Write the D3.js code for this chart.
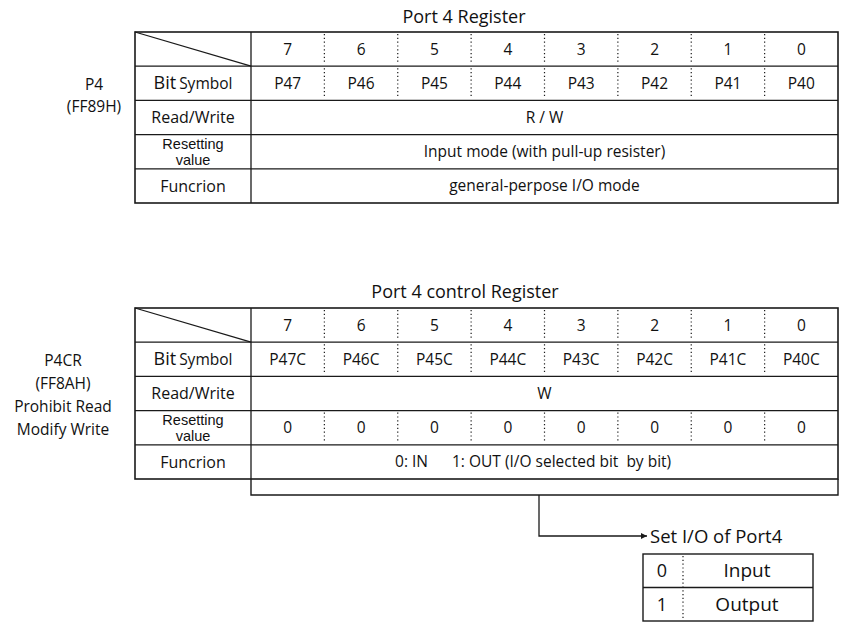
<!DOCTYPE html>
<html><head><meta charset="utf-8">
<script src="https://cdn.jsdelivr.net/npm/d3@7"></script>
<style>
body{margin:0;background:#fff;}
svg text{font-family:"Open Sans","Noto Sans",sans-serif;fill:#111;}
svg text.tight{font-family:"Liberation Sans",Arial,sans-serif;}
</style></head>
<body><svg id="c" width="841" height="630"></svg>
<script>
const bits = [7,6,5,4,3,2,1,0];
const p4Symbols = ["P47","P46","P45","P44","P43","P42","P41","P40"];
const p4crSymbols = ["P47C","P46C","P45C","P44C","P43C","P42C","P41C","P40C"];
const p4crReset = [0,0,0,0,0,0,0,0];
const rowLabels = ["", "Bit Symbol", "Read/Write", "Resetting value", "Funcrion"];
const legendRows = [{v:"0", t:"Input"},{v:"1", t:"Output"}];

const svg = d3.select("#c");
const ink = "#1a1a1a";
const FS = 15.5, LFS = 16;
const X0 = 135, XL = 251, X1 = 838;
const x = d3.scaleBand().domain(bits).range([XL, X1]);

function drawTable(cfg){
  const g = svg.append("g");
  const y = d3.scaleBand().domain(d3.range(5)).range([cfg.top, cfg.bottom]);
  const rh = y.bandwidth();
  g.append("text").attr("x", cfg.titleX).attr("y", cfg.titleY).attr("text-anchor","middle")
    .attr("font-size", 18).text(cfg.title);
  g.selectAll("line.row").data(d3.range(1,5)).join("line")
    .attr("x1", X0).attr("x2", X1).attr("y1", d=>y(d)).attr("y2", d=>y(d))
    .attr("stroke", ink).attr("stroke-width", 1.3);
  g.append("line").attr("x1", XL).attr("x2", XL).attr("y1", cfg.top).attr("y2", cfg.bottom)
    .attr("stroke", ink).attr("stroke-width", 1.3);
  g.append("line").attr("x1", X0).attr("y1", cfg.top).attr("x2", XL).attr("y2", y(1))
    .attr("stroke", ink).attr("stroke-width", 1.3);
  cfg.dottedRows.forEach(r=>{
    g.selectAll(null).data(bits.slice(1)).join("line")
      .attr("x1", d=>x(d)).attr("x2", d=>x(d)).attr("y1", y(r)+2).attr("y2", y(r)+rh-2)
      .attr("stroke", ink).attr("stroke-width", 1.2).attr("stroke-dasharray","1.2,2.6");
  });
  g.append("rect").attr("x", X0).attr("y", cfg.top).attr("width", X1-X0).attr("height", cfg.bottom-cfg.top)
    .attr("fill","none").attr("stroke", ink).attr("stroke-width", 1.6);
  const lx = (X0+XL)/2;
  const bs = g.append("text").attr("x", lx).attr("y", y(1)+rh/2).attr("dy","0.35em").attr("text-anchor","middle");
  bs.append("tspan").attr("font-size", 18).text("Bit");
  bs.append("tspan").attr("font-size", 15.5).attr("dx", 3).text("Symbol");
  g.append("text").attr("x", lx).attr("y", y(2)+rh/2).attr("dy","0.35em").attr("text-anchor","middle")
    .attr("font-size", LFS).text(rowLabels[2]);
  const rv = rowLabels[3].split(" ");
  const rt = g.append("text").attr("class","tight").attr("text-anchor","middle").attr("font-size", 14.5);
  rt.append("tspan").attr("x", lx).attr("y", y(3)+rh/2-3).text(rv[0]);
  rt.append("tspan").attr("x", lx).attr("y", y(3)+rh/2+13.3).text(rv[1]);
  g.append("text").attr("x", lx).attr("y", y(4)+rh/2).attr("dy","0.35em").attr("text-anchor","middle")
    .attr("font-size", LFS).text(rowLabels[4]);
  g.selectAll(null).data(bits).join("text")
    .attr("x", d=>x(d)+x.bandwidth()/2).attr("y", y(0)+rh/2).attr("dy","0.35em")
    .attr("text-anchor","middle").attr("font-size",FS).text(d=>d);
  g.selectAll(null).data(cfg.symbols).join("text")
    .attr("x", (d,i)=>x(bits[i])+x.bandwidth()/2).attr("y", y(1)+rh/2).attr("dy","0.35em")
    .attr("text-anchor","middle").attr("font-size",FS).text(d=>d);
  g.selectAll(null).data(cfg.side).join("text")
    .attr("x", cfg.sideX).attr("y",(d,i)=>cfg.sideY + i*cfg.sideStep).attr("dy","0.35em")
    .attr("text-anchor","middle").attr("font-size",FS).text(d=>d);
  return {g, y, rh};
}

const t1 = drawTable({title:"Port 4 Register", titleX:464, titleY:23, top:32, bottom:203,
  dottedRows:[0,1], symbols:p4Symbols, side:["P4","(FF89H)"], sideX:94, sideY:85, sideStep:22});
const mid = (XL+X1)/2;
t1.g.append("text").attr("x", mid).attr("y", t1.y(2)+t1.rh/2).attr("dy","0.35em").attr("text-anchor","middle").attr("font-size",FS).text("R / W");
t1.g.append("text").attr("x", mid).attr("y", t1.y(3)+t1.rh/2).attr("dy","0.35em").attr("text-anchor","middle").attr("font-size",FS).text("Input mode (with pull-up resister)");
t1.g.append("text").attr("x", mid).attr("y", t1.y(4)+t1.rh/2).attr("dy","0.35em").attr("text-anchor","middle").attr("font-size",FS).text("general-perpose I/O mode");

const t2 = drawTable({title:"Port 4 control Register", titleX:465, titleY:298, top:308, bottom:479,
  dottedRows:[0,1,3], symbols:p4crSymbols, side:["P4CR","(FF8AH)","Prohibit Read","Modify Write"], sideX:63, sideY:361, sideStep:22.8});
t2.g.append("text").attr("x", mid).attr("y", t2.y(2)+t2.rh/2).attr("dy","0.35em").attr("text-anchor","middle").attr("font-size",FS).text("W");
t2.g.selectAll(null).data(p4crReset).join("text")
  .attr("x",(d,i)=>x(bits[i])+x.bandwidth()/2).attr("y", t2.y(3)+t2.rh/2).attr("dy","0.35em")
  .attr("text-anchor","middle").attr("font-size",FS).text(d=>d);
t2.g.append("text").attr("x", 428).attr("y", t2.y(4)+t2.rh/2).attr("dy","0.35em").attr("text-anchor","end").attr("font-size",FS).text("0: IN");
t2.g.append("text").attr("x", 452).attr("y", t2.y(4)+t2.rh/2).attr("dy","0.35em").attr("text-anchor","start").attr("font-size",FS).style("white-space","pre").text("1: OUT (I/O selected bit  by bit)");

svg.append("path").attr("d", `M${XL},479 V495 H${X1} V479`).attr("fill","none").attr("stroke",ink).attr("stroke-width",1.4);

svg.append("defs").append("marker").attr("id","ah").attr("viewBox","0 0 10 10").attr("refX",10).attr("refY",5)
  .attr("markerWidth",9).attr("markerHeight",6).attr("orient","auto").attr("markerUnits","userSpaceOnUse")
  .append("path").attr("d","M0,0 L10,5 L0,10 Z").attr("fill",ink);
svg.append("path").attr("d","M539,495 V536 H647").attr("fill","none").attr("stroke",ink).attr("stroke-width",1.3).attr("marker-end","url(#ah)");
svg.append("text").attr("x",650).attr("y",537).attr("dy","0.35em").attr("font-size",18.5).text("Set I/O of Port4");

const lg = svg.append("g");
const ly = d3.scaleBand().domain(d3.range(legendRows.length)).range([554, 621]);
lg.append("rect").attr("x",643).attr("y",554).attr("width",170).attr("height",67).attr("fill","none").attr("stroke",ink).attr("stroke-width",1.4);
lg.append("line").attr("x1",643).attr("x2",813).attr("y1",ly(1)).attr("y2",ly(1)).attr("stroke",ink).attr("stroke-width",1.3);
lg.append("line").attr("x1",683).attr("x2",683).attr("y1",556).attr("y2",619).attr("stroke",ink).attr("stroke-width",1.2).attr("stroke-dasharray","1.2,2.6");
lg.selectAll(null).data(legendRows).join("text").attr("x",662).attr("y",(d,i)=>ly(i)+ly.bandwidth()/2).attr("dy","0.35em")
  .attr("text-anchor","middle").attr("font-size",18).text(d=>d.v);
lg.selectAll(null).data(legendRows).join("text").attr("x",747).attr("y",(d,i)=>ly(i)+ly.bandwidth()/2).attr("dy","0.35em")
  .attr("text-anchor","middle").attr("font-size",19).text(d=>d.t);
</script></body></html>
